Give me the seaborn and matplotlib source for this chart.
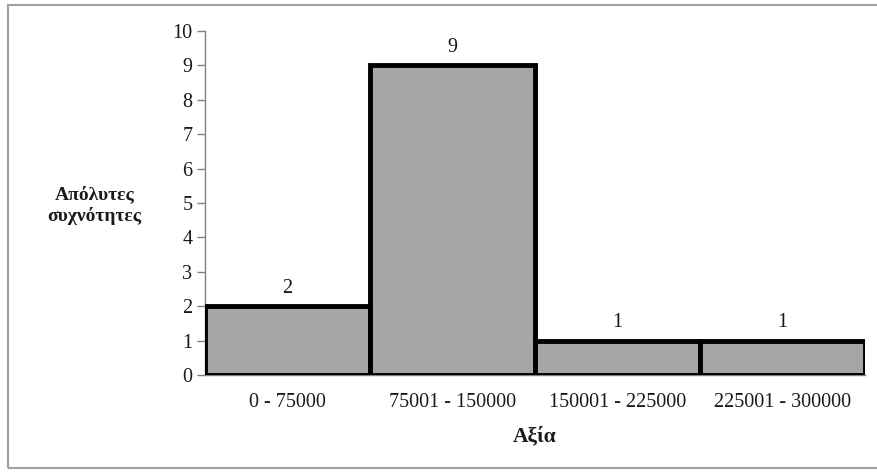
import matplotlib
matplotlib.use("Agg")
import matplotlib.pyplot as plt
import matplotlib.patches as mpatches
import seaborn as sns
import pandas as pd

# Value classes and absolute frequencies
classes = ["0 - 75000", "75001 - 150000", "150001 - 225000", "225001 - 300000"]
frequencies = [2, 9, 1, 1]
y_ticks = list(range(0, 11))

sns.set_style("white")
plt.rcParams["font.family"] = ["Liberation Serif", "DejaVu Serif"]

df = pd.DataFrame({"class": classes, "freq": frequencies})

fig = plt.figure(figsize=(8.78, 4.73), dpi=100)
ax = fig.add_axes([205 / 878, 1 - 375 / 473, 660 / 878, 344 / 473])

sns.barplot(data=df, x="class", y="freq", ax=ax, color="#a6a6a6",
            saturation=1, width=1.0, edgecolor="black", linewidth=3.5,
            zorder=3)

for p in ax.patches:
    p.set_facecolor("#a6a6a6")

ax.bar_label(ax.containers[0], labels=[str(v) for v in frequencies],
             padding=6, fontsize=14.5, color="#1a1a1a")

ax.set_xlim(-0.5, len(classes) - 0.5)
ax.set_ylim(0, 10)
ax.set_yticks(y_ticks)
ax.tick_params(axis="y", direction="out", length=6, width=1, color="#808080",
               labelsize=14.5, pad=3, left=True, labelcolor="#1a1a1a")
ax.tick_params(axis="x", length=0, labelsize=14.5, pad=13, labelcolor="#1a1a1a")

for side in ["top", "right"]:
    ax.spines[side].set_visible(False)
for side in ["left", "bottom"]:
    ax.spines[side].set_color("#808080")
    ax.spines[side].set_linewidth(1)

ax.set_xlabel("Αξία", fontsize=15.5, fontweight="bold", labelpad=10,
              color="#1a1a1a")
ax.set_ylabel("Απόλυτες\nσυχνότητες", fontsize=14, fontweight="bold",
              rotation=0, ha="center", va="center", linespacing=1.3,
              color="#1a1a1a")
ax.yaxis.set_label_coords(-0.167, 0.494)

# Outer chart frame
frame = mpatches.Rectangle((8 / 878, 1 - 468 / 473), 880 / 878, 463 / 473,
                           transform=fig.transFigure, fill=False,
                           edgecolor="#a0a0a0", linewidth=1.5)
fig.patches.append(frame)

fig.savefig("out.png", dpi=100)
